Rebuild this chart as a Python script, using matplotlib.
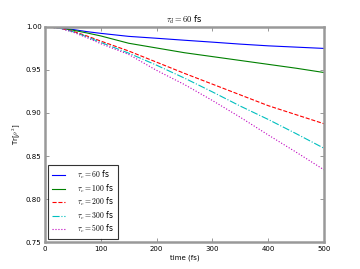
import matplotlib
matplotlib.use("Agg")
import matplotlib.pyplot as plt

plt.rcParams['mathtext.fontset'] = 'cm'

time_fs = [0, 25, 50, 75, 100, 150, 200, 250, 300, 350, 400, 450, 500]
purity_tc60 = [1.0, 0.9990, 0.9970, 0.9945, 0.9925, 0.9890, 0.9868, 0.9845, 0.9823, 0.9800, 0.9780, 0.9765, 0.9750]
purity_tc100 = [1.0, 0.9988, 0.9962, 0.9930, 0.9895, 0.9810, 0.9755, 0.9700, 0.9655, 0.9610, 0.9565, 0.9520, 0.9470]
purity_tc200 = [1.0, 0.9988, 0.9950, 0.9895, 0.9835, 0.9720, 0.9590, 0.9460, 0.9335, 0.9210, 0.9085, 0.8980, 0.8875]
purity_tc300 = [1.0, 0.9987, 0.9945, 0.9885, 0.9820, 0.9695, 0.9555, 0.9405, 0.9245, 0.9080, 0.8925, 0.8760, 0.8590]
purity_tc500 = [1.0, 0.9986, 0.9940, 0.9875, 0.9805, 0.9680, 0.9495, 0.9330, 0.9145, 0.8950, 0.8745, 0.8545, 0.8340]

labels = [r'$\tau_c=60$ fs', r'$\tau_c=100$ fs', r'$\tau_c=200$ fs',
          r'$\tau_c=300$ fs', r'$\tau_c=500$ fs']
series = [purity_tc60, purity_tc100, purity_tc200, purity_tc300, purity_tc500]
colors = [(0, 0, 1), (0, 0.5, 0), (1, 0, 0), (0, 0.75, 0.75), (0.75, 0, 0.75)]
styles = ['-', '-', '--', '-.', ':']

xticks = [0, 100, 200, 300, 400, 500]
yticks = [0.75, 0.80, 0.85, 0.90, 0.95, 1.00]

fig = plt.figure(figsize=(3.6, 2.69), dpi=100)
ax = fig.add_axes([0.125, 0.1, 0.775, 0.8])

for y, lab, c, ls in zip(series, labels, colors, styles):
    ax.plot(time_fs, y, color=c, linestyle=ls, linewidth=0.8, label=lab)

ax.set_xlim(0, 500)
ax.set_ylim(0.75, 1.00)
ax.set_xticks(xticks)
ax.set_yticks(yticks)
ax.set_xticklabels([str(v) for v in xticks])
ax.set_yticklabels(['%.2f' % v for v in yticks])
ax.tick_params(direction='in', length=3, width=0.6, color='#888888',
               labelsize=5, pad=2.5, top=True, right=True)
for s in ax.spines.values():
    s.set_color('#999999')
    s.set_linewidth(1.8)

ax.set_xlabel('time (fs)', fontsize=5, labelpad=2)
ax.set_ylabel(r'Tr[$\rho^2$]', fontsize=5, labelpad=3)
ax.set_title(r'$\tau_d=60$ fs', fontsize=6, pad=3)

leg = ax.legend(loc='lower left', fontsize=5.5, frameon=True, fancybox=False,
                handlelength=1.7, handletextpad=1.6, borderpad=0.55,
                labelspacing=0.15, borderaxespad=0.35)
leg.get_frame().set_edgecolor('black')
leg.get_frame().set_linewidth(0.8)

fig.savefig('out.png', dpi=100)
